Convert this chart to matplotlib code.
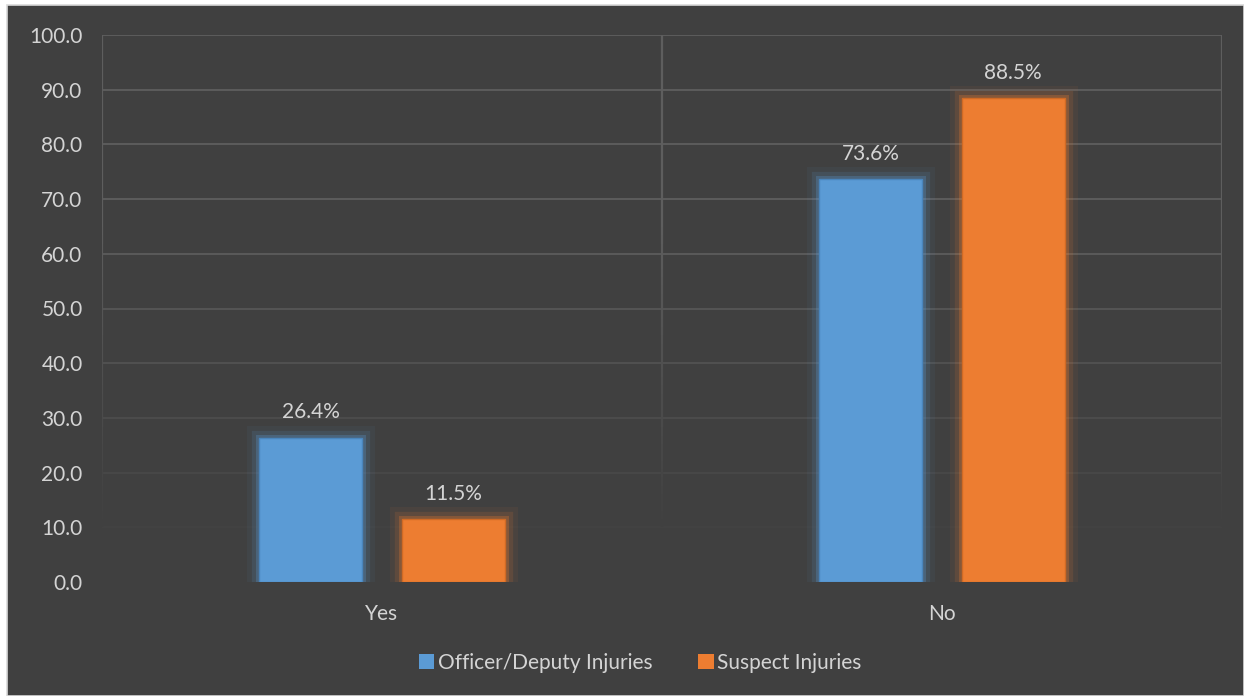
import matplotlib
matplotlib.use("Agg")
from matplotlib import pyplot as plt
from matplotlib import patheffects as pe
from matplotlib.patches import Rectangle
import numpy as np

categories = ["Yes", "No"]
officer = [26.4, 73.6]
suspect = [11.5, 88.5]
series_names = ["Officer/Deputy Injuries", "Suspect Injuries"]
yticks = [0, 10, 20, 30, 40, 50, 60, 70, 80, 90, 100]

bg = "#404040"
txt = "#d4d4d4"
blue = "#5B9BD5"
orange = "#ED7D31"

plt.rcParams["font.family"] = ["Lato", "DejaVu Sans"]

fig = plt.figure(figsize=(12.44, 6.96), dpi=100, facecolor="white")
# dark chart area with a thin light border
fig.patches.append(Rectangle((6.5 / 1244, 0), 1 - 6.5 / 1244, 1 - 5 / 696,
                             transform=fig.transFigure, facecolor=bg,
                             edgecolor="#d9d9d9", linewidth=1.2, zorder=-5))
# title is cut off at the top of the picture, only descenders show
fig.text(7 / 1244, 1 + 5.0 / 696,
         "Figure 9: Comparison of Officer/Deputy Use of Force Involved Injuries during Incidents",
         family="Liberation Serif", weight="bold", fontsize=15.5, color="black",
         va="baseline", ha="left")

ax = fig.add_axes([102 / 1244, (696 - 582) / 696, 1120 / 1244, 547 / 696])
ax.set_facecolor("none")
ax.set_xlim(-0.5, 1.5)
ax.set_ylim(0, 100)

# fading grid: brighter at the top, disappearing toward the bottom
top_col = np.array([0x5e, 0x5e, 0x5e]) / 255
bot_col = np.array([0x40, 0x40, 0x40]) / 255
for v in yticks[1:]:
    f = min(1, (v - 5) / 60) if v < 65 else 1
    c = bot_col + (top_col - bot_col) * max(f, 0)
    ax.axhline(v, color=c, linewidth=1.3, zorder=1)
ys = np.linspace(10, 100, 60)
for xv in [-0.5, 0.5, 1.5]:
    for i in range(len(ys) - 1):
        f = min(1, max(0, (ys[i] - 10) / 55))
        c = bot_col + (top_col - bot_col) * f
        ax.plot([xv, xv], [ys[i], ys[i + 1]], color=c, linewidth=1.6,
                solid_capstyle="butt", zorder=1)

x = np.arange(len(categories))
w = 0.184
off = 0.127
glow_b = [pe.Stroke(linewidth=18, foreground=blue, alpha=0.06),
          pe.Stroke(linewidth=11, foreground=blue, alpha=0.13),
          pe.Stroke(linewidth=5, foreground=blue, alpha=0.28), pe.Normal()]
glow_o = [pe.Stroke(linewidth=18, foreground=orange, alpha=0.06),
          pe.Stroke(linewidth=11, foreground=orange, alpha=0.13),
          pe.Stroke(linewidth=5, foreground=orange, alpha=0.28), pe.Normal()]
b1 = ax.bar(x - off, officer, w, color=blue, edgecolor="#4a86bd", linewidth=1,
            label=series_names[0], zorder=3)
b2 = ax.bar(x + off, suspect, w, color=orange, edgecolor="#d06a25", linewidth=1,
            label=series_names[1], zorder=3)
for b in b1:
    b.set_path_effects(glow_b)
for b in b2:
    b.set_path_effects(glow_o)

for bars, vals in [(b1, officer), (b2, suspect)]:
    for b, v in zip(bars, vals):
        ax.annotate(f"{v:.1f}%", (b.get_x() + b.get_width() / 2, v),
                    xytext=(0, 11), textcoords="offset points", ha="center",
                    va="bottom", color=txt, fontsize=15)

ax.set_yticks(yticks)
ax.set_yticklabels([f"{t:.1f}" for t in yticks])
ax.set_xticks(x)
ax.set_xticklabels(categories)
ax.tick_params(colors=txt, labelsize=15, length=0)
ax.tick_params(axis="y", pad=14)
ax.tick_params(axis="x", pad=16)
for s in ax.spines.values():
    s.set_visible(False)

leg = fig.legend(handles=[b1, b2], labels=series_names, loc="center",
                 bbox_to_anchor=(640 / 1244, 1 - 663 / 696), ncol=2,
                 frameon=False, fontsize=15, handlelength=0.75,
                 handleheight=0.75, handletextpad=0.15, columnspacing=2.2)
for t in leg.get_texts():
    t.set_color(txt)
for h in leg.legend_handles:
    h.set_path_effects([pe.Normal()])
    h.set_edgecolor("none")

fig.savefig("out.png", dpi=100, facecolor="white")
